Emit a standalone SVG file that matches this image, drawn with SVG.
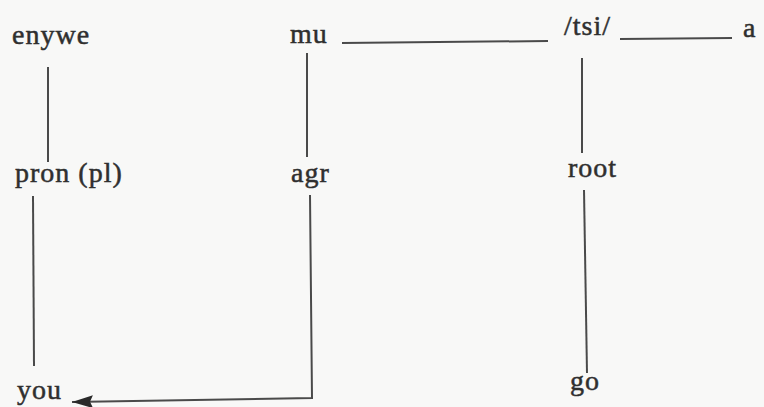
<svg xmlns="http://www.w3.org/2000/svg" width="764" height="407" viewBox="0 0 764 407">
  <style>
    .lbl { font-family: "Liberation Serif", "Times New Roman", serif; font-size: 28px; letter-spacing: 1px; fill: #2f2f2f; stroke: #2f2f2f; stroke-width: 0.5; }
    .ln { stroke: #4a4a4a; stroke-width: 2; fill: none; stroke-linecap: butt; }
  </style>
  <defs>
    <marker id="arrow" markerUnits="userSpaceOnUse" markerWidth="22" markerHeight="14" refX="21" refY="7" orient="auto">
      <path d="M0,0.5 L21,7 L0,13.5 L3,7 Z" fill="#2a2a2a"/>
    </marker>
  </defs>
  <rect width="764" height="407" fill="#f8f8f7"/>

  <g id="connectors">
    <!-- phonological string -->
    <line class="ln" x1="342" y1="43" x2="548" y2="41"/>
    <line class="ln" x1="620" y1="39" x2="732" y2="38"/>
    <!-- enywe column -->
    <line class="ln" x1="48" y1="67" x2="48" y2="162"/>
    <line class="ln" x1="33" y1="196" x2="34" y2="366"/>
    <!-- mu column and agreement link -->
    <line class="ln" x1="307" y1="53" x2="307" y2="157"/>
    <polyline class="ln" points="310,195 312,398 72,402" marker-end="url(#arrow)"/>
    <!-- tsi column -->
    <line class="ln" x1="582" y1="58" x2="582" y2="153"/>
    <line class="ln" x1="584" y1="190" x2="587" y2="373"/>
  </g>

  <g id="enywe"><text class="lbl" x="12" y="44">enywe</text></g>
  <g id="pron-pl"><text class="lbl" x="15" y="182">pron (pl)</text></g>
  <g id="you"><text class="lbl" x="17" y="399">you</text></g>
  <g id="mu"><text class="lbl" x="290" y="43">mu</text></g>
  <g id="agr"><text class="lbl" x="291" y="182">agr</text></g>
  <g id="tsi"><text class="lbl" x="564" y="35">/tsi/</text></g>
  <g id="a"><text class="lbl" x="743" y="37">a</text></g>
  <g id="root"><text class="lbl" x="568" y="177">root</text></g>
  <g id="go"><text class="lbl" x="570" y="390">go</text></g>
</svg>
